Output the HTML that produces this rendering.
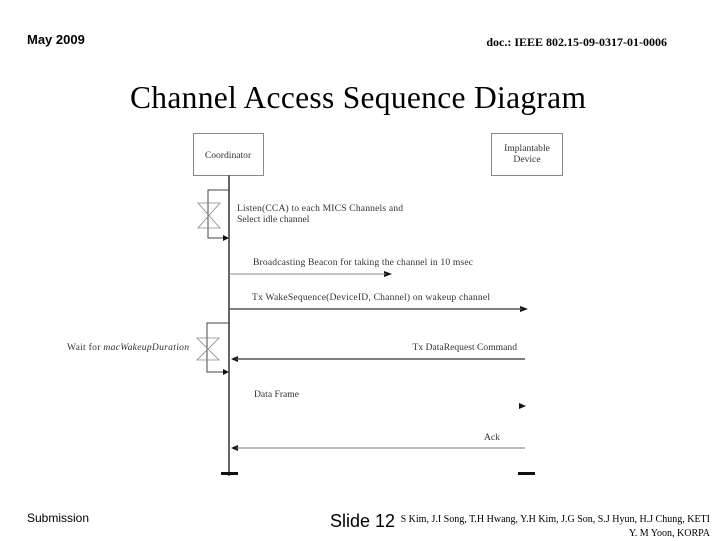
<!DOCTYPE html>
<html><head><style>
body{margin:0;width:720px;height:540px;background:#fff;position:relative;overflow:hidden;font-family:"Liberation Serif",serif}
.a{position:absolute;white-space:nowrap}
</style></head><body>
<div class="a" style="left:27px;top:32px;font:bold 13px 'Liberation Sans',sans-serif">May 2009</div>
<div class="a" style="right:53px;top:35px;font:bold 12px 'Liberation Serif',serif">doc.: IEEE 802.15-09-0317-01-0006</div>
<div class="a" style="left:130px;top:80px;font:31.5px 'Liberation Serif',serif;letter-spacing:0.3px">Channel Access Sequence Diagram</div>
<svg class="a" style="left:0;top:0" width="720" height="540" font-family="Liberation Serif" font-size="9.6" fill="#333">
<rect x="193.5" y="133.5" width="70" height="42" fill="#fff" stroke="#888"/>
<text x="228" y="158" text-anchor="middle">Coordinator</text>
<rect x="491.5" y="133.5" width="71" height="42" fill="#fff" stroke="#888"/>
<text x="527" y="151" text-anchor="middle">Implantable</text>
<text x="527" y="162" text-anchor="middle">Device</text>
<line x1="229" y1="175" x2="229" y2="476" stroke="#666" stroke-width="2"/>
<rect x="221" y="472" width="17" height="3" fill="#111"/>
<rect x="518" y="472" width="17" height="3" fill="#111"/>
<g stroke="#444" fill="none">
<path d="M229 190H208V238H224"/>
<path d="M229 323H207V372H224"/>
</g>
<g stroke="#888" fill="none" stroke-width="0.8">
<path d="M198 203H220L198 228H220Z"/>
<path d="M197 338H219L197 360H219Z"/>
</g>
<g fill="#111">
<path d="M229 238l-6-3v6z"/><path d="M229 372l-6-3v6z"/>
<path d="M392 274l-8-3v6z"/><path d="M528 309l-8-3v6z"/>
<path d="M231 359l7-3v6z"/><path d="M526 406l-7-3v6z"/><path d="M231 448l7-3v6z"/>
</g>
<line x1="229" y1="274" x2="386" y2="274" stroke="#888"/>
<line x1="229" y1="309" x2="522" y2="309" stroke="#555" stroke-width="1.5"/>
<line x1="236" y1="359" x2="525" y2="359" stroke="#555" stroke-width="1.5"/>
<line x1="236" y1="448" x2="525" y2="448" stroke="#777"/>
<text x="237" y="211" textLength="166">Listen(CCA) to each MICS Channels and</text>
<text x="237" y="222">Select idle channel</text>
<text x="253" y="265" textLength="220">Broadcasting Beacon for taking the channel in 10 msec</text>
<text x="252" y="300" textLength="238">Tx WakeSequence(DeviceID, Channel) on wakeup channel</text>
<text x="67" y="350" textLength="122">Wait for <tspan font-style="italic">macWakeupDuration</tspan></text>
<text x="517" y="350" text-anchor="end">Tx DataRequest Command</text>
<text x="254" y="397">Data Frame</text>
<text x="484" y="440">Ack</text>
</svg>
<div class="a" style="left:27px;top:511px;font:12px 'Liberation Sans',sans-serif">Submission</div>
<div class="a" style="left:330px;top:511px;font:18px 'Liberation Sans',sans-serif">Slide 12</div>
<div class="a" style="right:10px;top:513px;font:10px 'Liberation Serif',serif;text-align:right;line-height:14px">S Kim, J.I Song, T.H Hwang, Y.H Kim, J.G Son, S.J Hyun, H.J Chung, KETI<br>Y. M Yoon, KORPA</div>
</body></html>
